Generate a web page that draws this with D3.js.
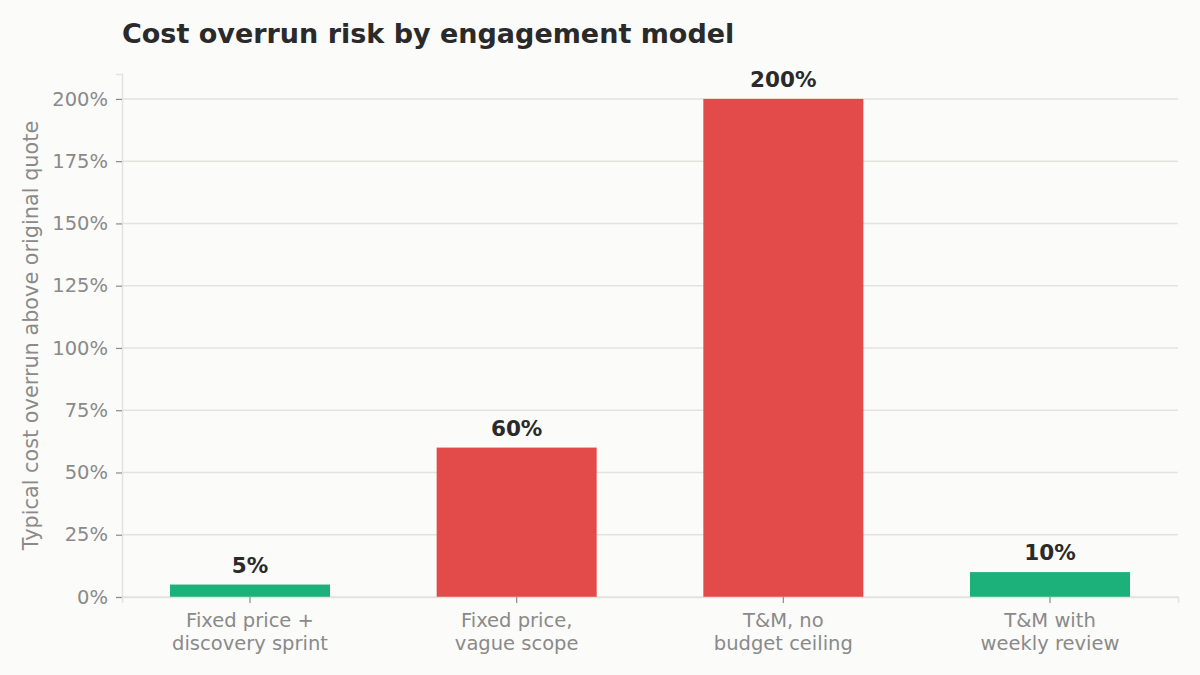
<!DOCTYPE html>
<html>
<head>
<meta charset="utf-8">
<script src="https://cdn.jsdelivr.net/npm/d3@7"></script>
<style>
  html, body { margin: 0; padding: 0; background: #fbfbf9; }
  svg { display: block; font-family: "DejaVu Sans", sans-serif; }
</style>
</head>
<body>
<svg id="chart"></svg>
<script>
const categories = [
    ["Fixed price +", "discovery sprint"],
    ["Fixed price,", "vague scope"],
    ["T&M, no", "budget ceiling"],
    ["T&M with", "weekly review"]
];
const overrun = [5, 60, 200, 10];
const risky = [false, true, true, false];
const yTicks = [0, 25, 50, 75, 100, 125, 150, 175, 200];

const width = 1200, height = 675;
const margin = { top: 74, right: 22, bottom: 78, left: 122 };
const innerW = width - margin.left - margin.right;
const innerH = height - margin.top - margin.bottom;

const svg = d3.select("#chart")
    .attr("width", width)
    .attr("height", height);

svg.append("rect")
    .attr("width", width)
    .attr("height", height)
    .attr("fill", "#fbfbf9");

svg.append("text")
    .attr("x", margin.left)
    .attr("y", 43)
    .style("font-size", "27px")
    .style("font-weight", "bold")
    .attr("fill", "#2a2a2a")
    .text("Cost overrun risk by engagement model");

const g = svg.append("g")
    .attr("transform", `translate(${margin.left},${margin.top})`);

const x = d3.scaleBand()
    .domain(d3.range(categories.length))
    .range([0, innerW])
    .paddingInner(0.4)
    .paddingOuter(0.18);

const y = d3.scaleLinear()
    .domain([0, 210])
    .range([innerH, 0]);

// gridlines
g.selectAll("line.grid")
    .data(yTicks)
    .enter().append("line")
    .attr("class", "grid")
    .attr("x1", 0)
    .attr("x2", innerW)
    .attr("y1", d => y(d))
    .attr("y2", d => y(d))
    .attr("stroke", "#e3e3dd")
    .attr("stroke-width", 1.5);

// y axis
const yAxis = g.append("g")
    .call(d3.axisLeft(y).tickValues(yTicks).tickFormat(d => d + "%").tickSize(6).tickPadding(8));
yAxis.select(".domain").attr("stroke", "#e3e3dd").attr("stroke-width", 1.5);
yAxis.selectAll(".tick line").attr("stroke", "#8a8a8a").attr("stroke-width", 1.2);
yAxis.selectAll(".tick text")
    .attr("fill", "#8a8a8a")
    .style("font-size", "19.5px")
    .style("font-family", "DejaVu Sans");

// bars
g.selectAll("rect.bar")
    .data(overrun)
    .enter().append("rect")
    .attr("class", "bar")
    .attr("x", (d, i) => x(i))
    .attr("width", x.bandwidth())
    .attr("y", d => y(d))
    .attr("height", d => innerH - y(d))
    .attr("fill", (d, i) => risky[i] ? "#e34a4a" : "#1cb07b");

// x axis
const xAxis = g.append("g")
    .attr("transform", `translate(0,${innerH})`)
    .call(d3.axisBottom(x).tickSize(6).tickFormat(""));
xAxis.select(".domain").attr("stroke", "#e3e3dd").attr("stroke-width", 1.5);
xAxis.selectAll(".tick line").attr("stroke", "#8a8a8a").attr("stroke-width", 1.2);

g.selectAll("text.cat")
    .data(categories)
    .enter().append("text")
    .attr("class", "cat")
    .attr("text-anchor", "middle")
    .attr("fill", "#8a8a8a")
    .style("font-size", "19.5px")
    .attr("transform", (d, i) => `translate(${x(i) + x.bandwidth() / 2},${innerH + 30})`)
    .selectAll("tspan")
    .data(d => d)
    .enter().append("tspan")
    .attr("x", 0)
    .attr("dy", (d, j) => j === 0 ? 0 : 22.5)
    .text(d => d);

// value labels
g.selectAll("text.val")
    .data(overrun)
    .enter().append("text")
    .attr("class", "val")
    .attr("x", (d, i) => x(i) + x.bandwidth() / 2)
    .attr("y", d => y(d) - 12)
    .attr("text-anchor", "middle")
    .attr("fill", "#2a2a2a")
    .style("font-size", "21.5px")
    .style("font-weight", "bold")
    .text(d => d + "%");

// y label
svg.append("text")
    .attr("transform", `translate(38,${margin.top + innerH / 2}) rotate(-90)`)
    .attr("text-anchor", "middle")
    .attr("fill", "#8a8a8a")
    .style("font-size", "20.8px")
    .text("Typical cost overrun above original quote");
</script>
</body>
</html>
